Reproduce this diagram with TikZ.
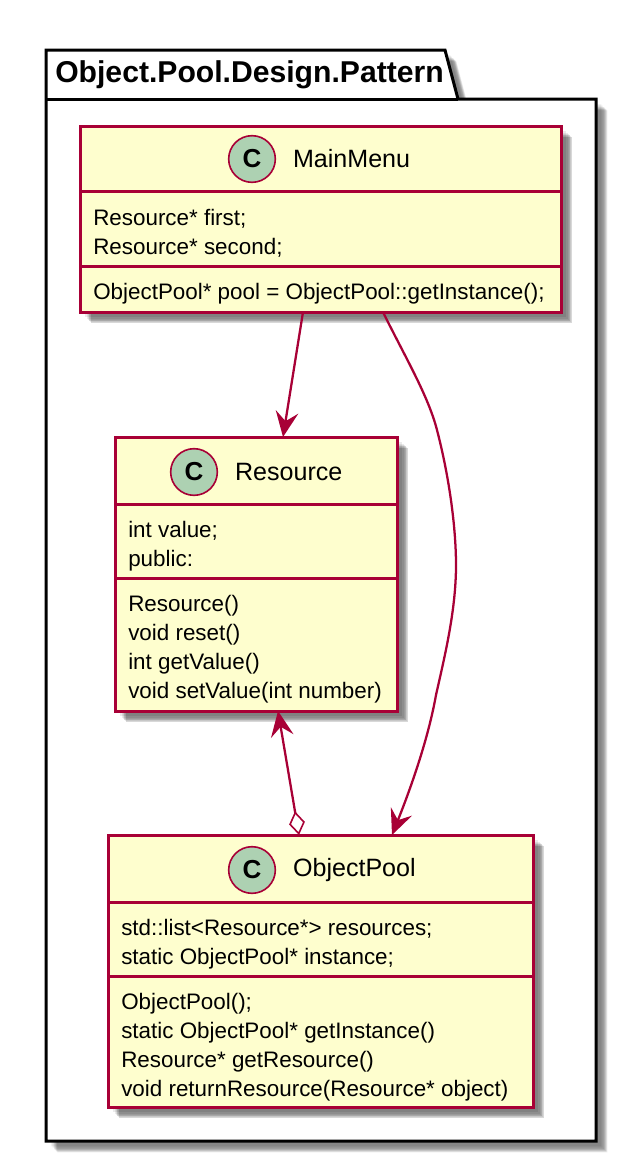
\documentclass[tikz,border=0pt]{standalone}
\usepackage{fontspec}
\setmainfont{Liberation Sans}
\usetikzlibrary{arrows.meta,positioning}
\definecolor{umlred}{HTML}{A80036}
\definecolor{umlfill}{HTML}{FEFECE}
\definecolor{umlspot}{HTML}{ADD1B2}
\tikzset{
  softlayer/.style={preaction={draw=none,fill=black,opacity=.08,transform canvas={shift={(#1,-#1)}}}},
  softshadow/.style={softlayer=8.5pt,softlayer=8pt,softlayer=7.5pt,softlayer=7pt,softlayer=6.5pt,softlayer=6pt,softlayer=5pt,softlayer=4pt},
  classbox/.style={draw=umlred,fill=umlfill,line width=2.25pt,anchor=north west,inner sep=0pt,outer sep=0pt,softshadow},
  classline/.style={draw=umlred,line width=2.25pt},
  spot/.style={circle,draw=umlred,fill=umlspot,line width=1.2pt,minimum size=35pt,inner sep=0pt,font=\fontsize{19.5}{20}\selectfont\bfseries},
  classname/.style={right=12.5pt of #1,font=\fontsize{18.8}{22}\selectfont,inner sep=0pt},
  members/.style={anchor=north west,align=left,inner sep=0pt,font=\fontsize{16.8}{21.75}\selectfont},
  assoc/.style={draw=umlred,line width=1.7pt},
  pointy/.tip={Stealth[length=19pt,width=17pt,inset=7pt]},
}
\begin{document}
\begin{tikzpicture}[x=.75pt,y=-.75pt]
\useasboundingbox (0,0) rectangle (639,1164);
% package
\draw[black,fill=white,line width=2.25pt,softshadow] (46,99) -- (46,50) -- (445,50) -- (458,99) -- (596,99) -- (596,1141) -- (46,1141) -- cycle;
\draw[black,line width=2.25pt] (46,99) -- (458,99);
\node[anchor=west,inner sep=0pt,font=\fontsize{22.6}{26}\selectfont\bfseries] (pkgtitle) at (55,75) {Object.Pool.Design.Pattern};
% classes
\node[classbox,minimum width=481*.75pt,minimum height=186*.75pt] (mainmenu) at (80,126) {};
\node[classbox,minimum width=282*.75pt,minimum height=274*.75pt] (resource) at (115,437) {};
\node[classbox,minimum width=425*.75pt,minimum height=272*.75pt] (objectpool) at (108,835) {};
% MainMenu
\draw[classline] (mainmenu.west |- 0,191) -- (mainmenu.east |- 0,191);
\draw[classline] (mainmenu.west |- 0,266) -- (mainmenu.east |- 0,266);
\node[spot] (menuspot) at (252,159) {C};
\node[classname=menuspot] (menuname) {MainMenu};
\node[members] (menuattr) at (93,209) {Resource* first;\\Resource* second;};
\node[members] (menuops) at (93,283) {ObjectPool* pool = ObjectPool::getInstance();};
% Resource
\draw[classline] (resource.west |- 0,504) -- (resource.east |- 0,504);
\draw[classline] (resource.west |- 0,578) -- (resource.east |- 0,578);
\node[spot] (resspot) at (194,472) {C};
\node[classname=resspot] (resname) {Resource};
\node[members] (resattr) at (128,521) {int value;\\public:};
\node[members] (resops) at (128,595) {Resource()\\void reset()\\int getValue()\\void setValue(int number)};
% ObjectPool
\draw[classline] (objectpool.west |- 0,902) -- (objectpool.east |- 0,902);
\draw[classline] (objectpool.west |- 0,976) -- (objectpool.east |- 0,976);
\node[spot] (poolspot) at (252,870) {C};
\node[classname=poolspot] (poolname) {ObjectPool};
\node[members] (poolattr) at (121,919) {std::list<Resource*> resources;\\static ObjectPool* instance;};
\node[members] (poolops) at (121,993) {ObjectPool();\\static ObjectPool* getInstance()\\Resource* getResource()\\void returnResource(Resource* object)};
% connectors
\draw[assoc,-{pointy}] ([xshift=-.75*17.5pt]mainmenu.south) -- ([xshift=.75*27pt]resource.north);
\draw[assoc,{pointy}-{Diamond[open,length=18pt,width=12pt,line width=1.2pt,fill=white]}] ([xshift=.75*22pt]resource.south) -- ([xshift=-.75*21.5pt]objectpool.north);
\draw[assoc,-{pointy}] ([xshift=.75*62.5pt]mainmenu.south) .. controls +(21,43) and (428,395) .. (437,430) .. controls (450,480) and (456,530) .. (456,565) .. controls (456,610) and (445,655) .. (436,695) .. controls (428,740) and (410,790) .. ([xshift=.75*71.5pt]objectpool.north);
\end{tikzpicture}
\end{document}
